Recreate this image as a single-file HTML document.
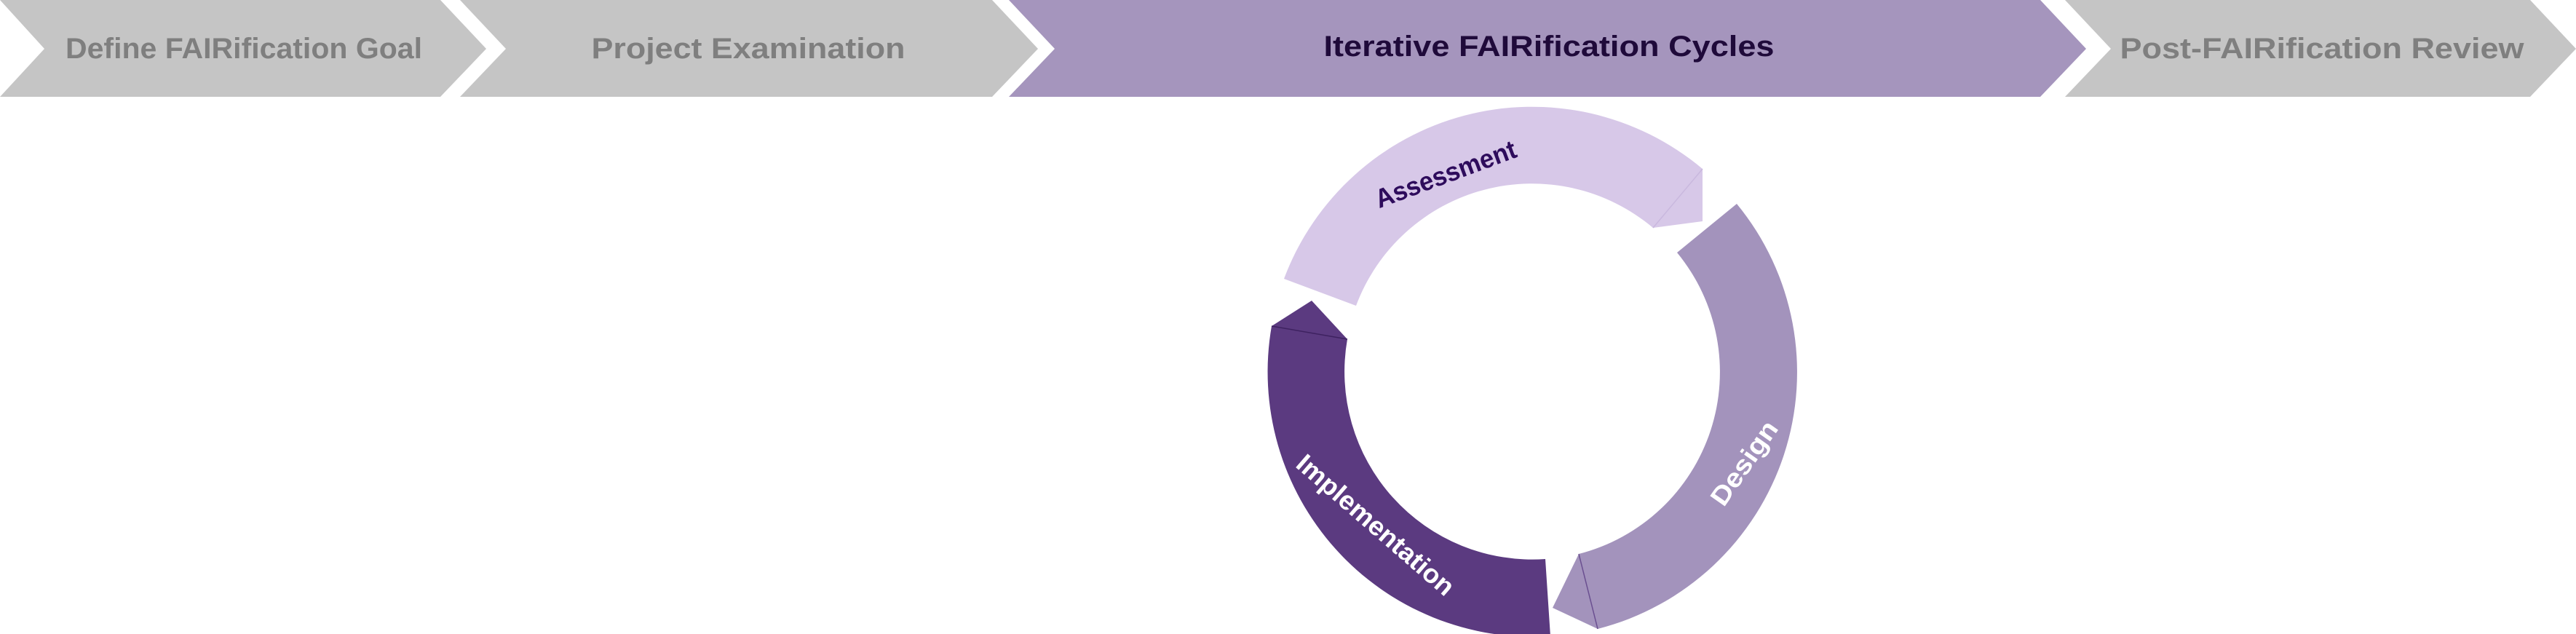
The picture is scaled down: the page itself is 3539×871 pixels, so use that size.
<!DOCTYPE html>
<html><head><meta charset="utf-8"><style>
html,body{margin:0;padding:0;background:#fff;}
svg{display:block;}
text{font-family:"Liberation Sans",sans-serif;font-weight:bold;}
</style></head><body>
<svg width="3539" height="871" viewBox="0 0 3539 871" xmlns="http://www.w3.org/2000/svg">
<!-- header chevrons -->
<polygon points="0,0 605,0 668,67 605,133 0,133 61,67" fill="#c5c5c5"/>
<polygon points="632,0 1363,0 1426,67 1363,133 632,133 695,67" fill="#c5c5c5"/>
<polygon points="1386,0 2803,0 2866,67 2803,133 1386,133 1449,67" fill="#a595bd"/>
<polygon points="2837,0 3476,0 3539,67 3476,133 2837,133 2900,67" fill="#c5c5c5"/>
<text x="335" y="67" dominant-baseline="central" text-anchor="middle" font-size="40" fill="#7f7f7f" textLength="490" lengthAdjust="spacingAndGlyphs">Define FAIRification Goal</text>
<text x="1028" y="67" dominant-baseline="central" text-anchor="middle" font-size="40" fill="#7f7f7f" textLength="431" lengthAdjust="spacingAndGlyphs">Project Examination</text>
<text x="2128" y="64" dominant-baseline="central" text-anchor="middle" font-size="40" fill="#1f0a3a" textLength="619" lengthAdjust="spacingAndGlyphs">Iterative FAIRification Cycles</text>
<text x="3190" y="67" dominant-baseline="central" text-anchor="middle" font-size="40" fill="#7f7f7f" textLength="555" lengthAdjust="spacingAndGlyphs">Post-FAIRification Review</text>

<!-- cycle -->
<path d="M1764,383 A364,364 0 0 1 2339,232 L2339,304 L2271,313 A258,258 0 0 0 1863,420 Z" fill="#d7c8e8"/>
<line x1="2339" y1="232" x2="2271" y2="313" stroke="#c9b8de" stroke-width="1.5"/>
<path d="M2386,280 A364,364 0 0 1 2195,864 L2133,835 L2169,761 A258,258 0 0 0 2304,347 Z" fill="#a393bc"/>
<line x1="2195" y1="864" x2="2169" y2="761" stroke="#6a4f90" stroke-width="1.5"/>
<path d="M2130,874 A364,364 0 0 1 1747,448 L1802,413 L1851,466 A258,258 0 0 0 2123,768 Z" fill="#5b3a80"/>
<line x1="1747" y1="448" x2="1851" y2="466" stroke="#3e2260" stroke-width="1.5"/>

<text transform="translate(1986,239) rotate(-20.4)" text-anchor="middle" dominant-baseline="central" font-size="36" fill="#2e0c5c" textLength="204" lengthAdjust="spacingAndGlyphs">Assessment</text>
<text transform="translate(2396,636) rotate(-55)" text-anchor="middle" dominant-baseline="central" font-size="36" fill="#ffffff" textLength="133" lengthAdjust="spacingAndGlyphs">Design</text>
<text transform="translate(1890,721) rotate(41)" text-anchor="middle" dominant-baseline="central" font-size="36" fill="#ffffff" textLength="274" lengthAdjust="spacingAndGlyphs">Implementation</text>
</svg>
</body></html>
